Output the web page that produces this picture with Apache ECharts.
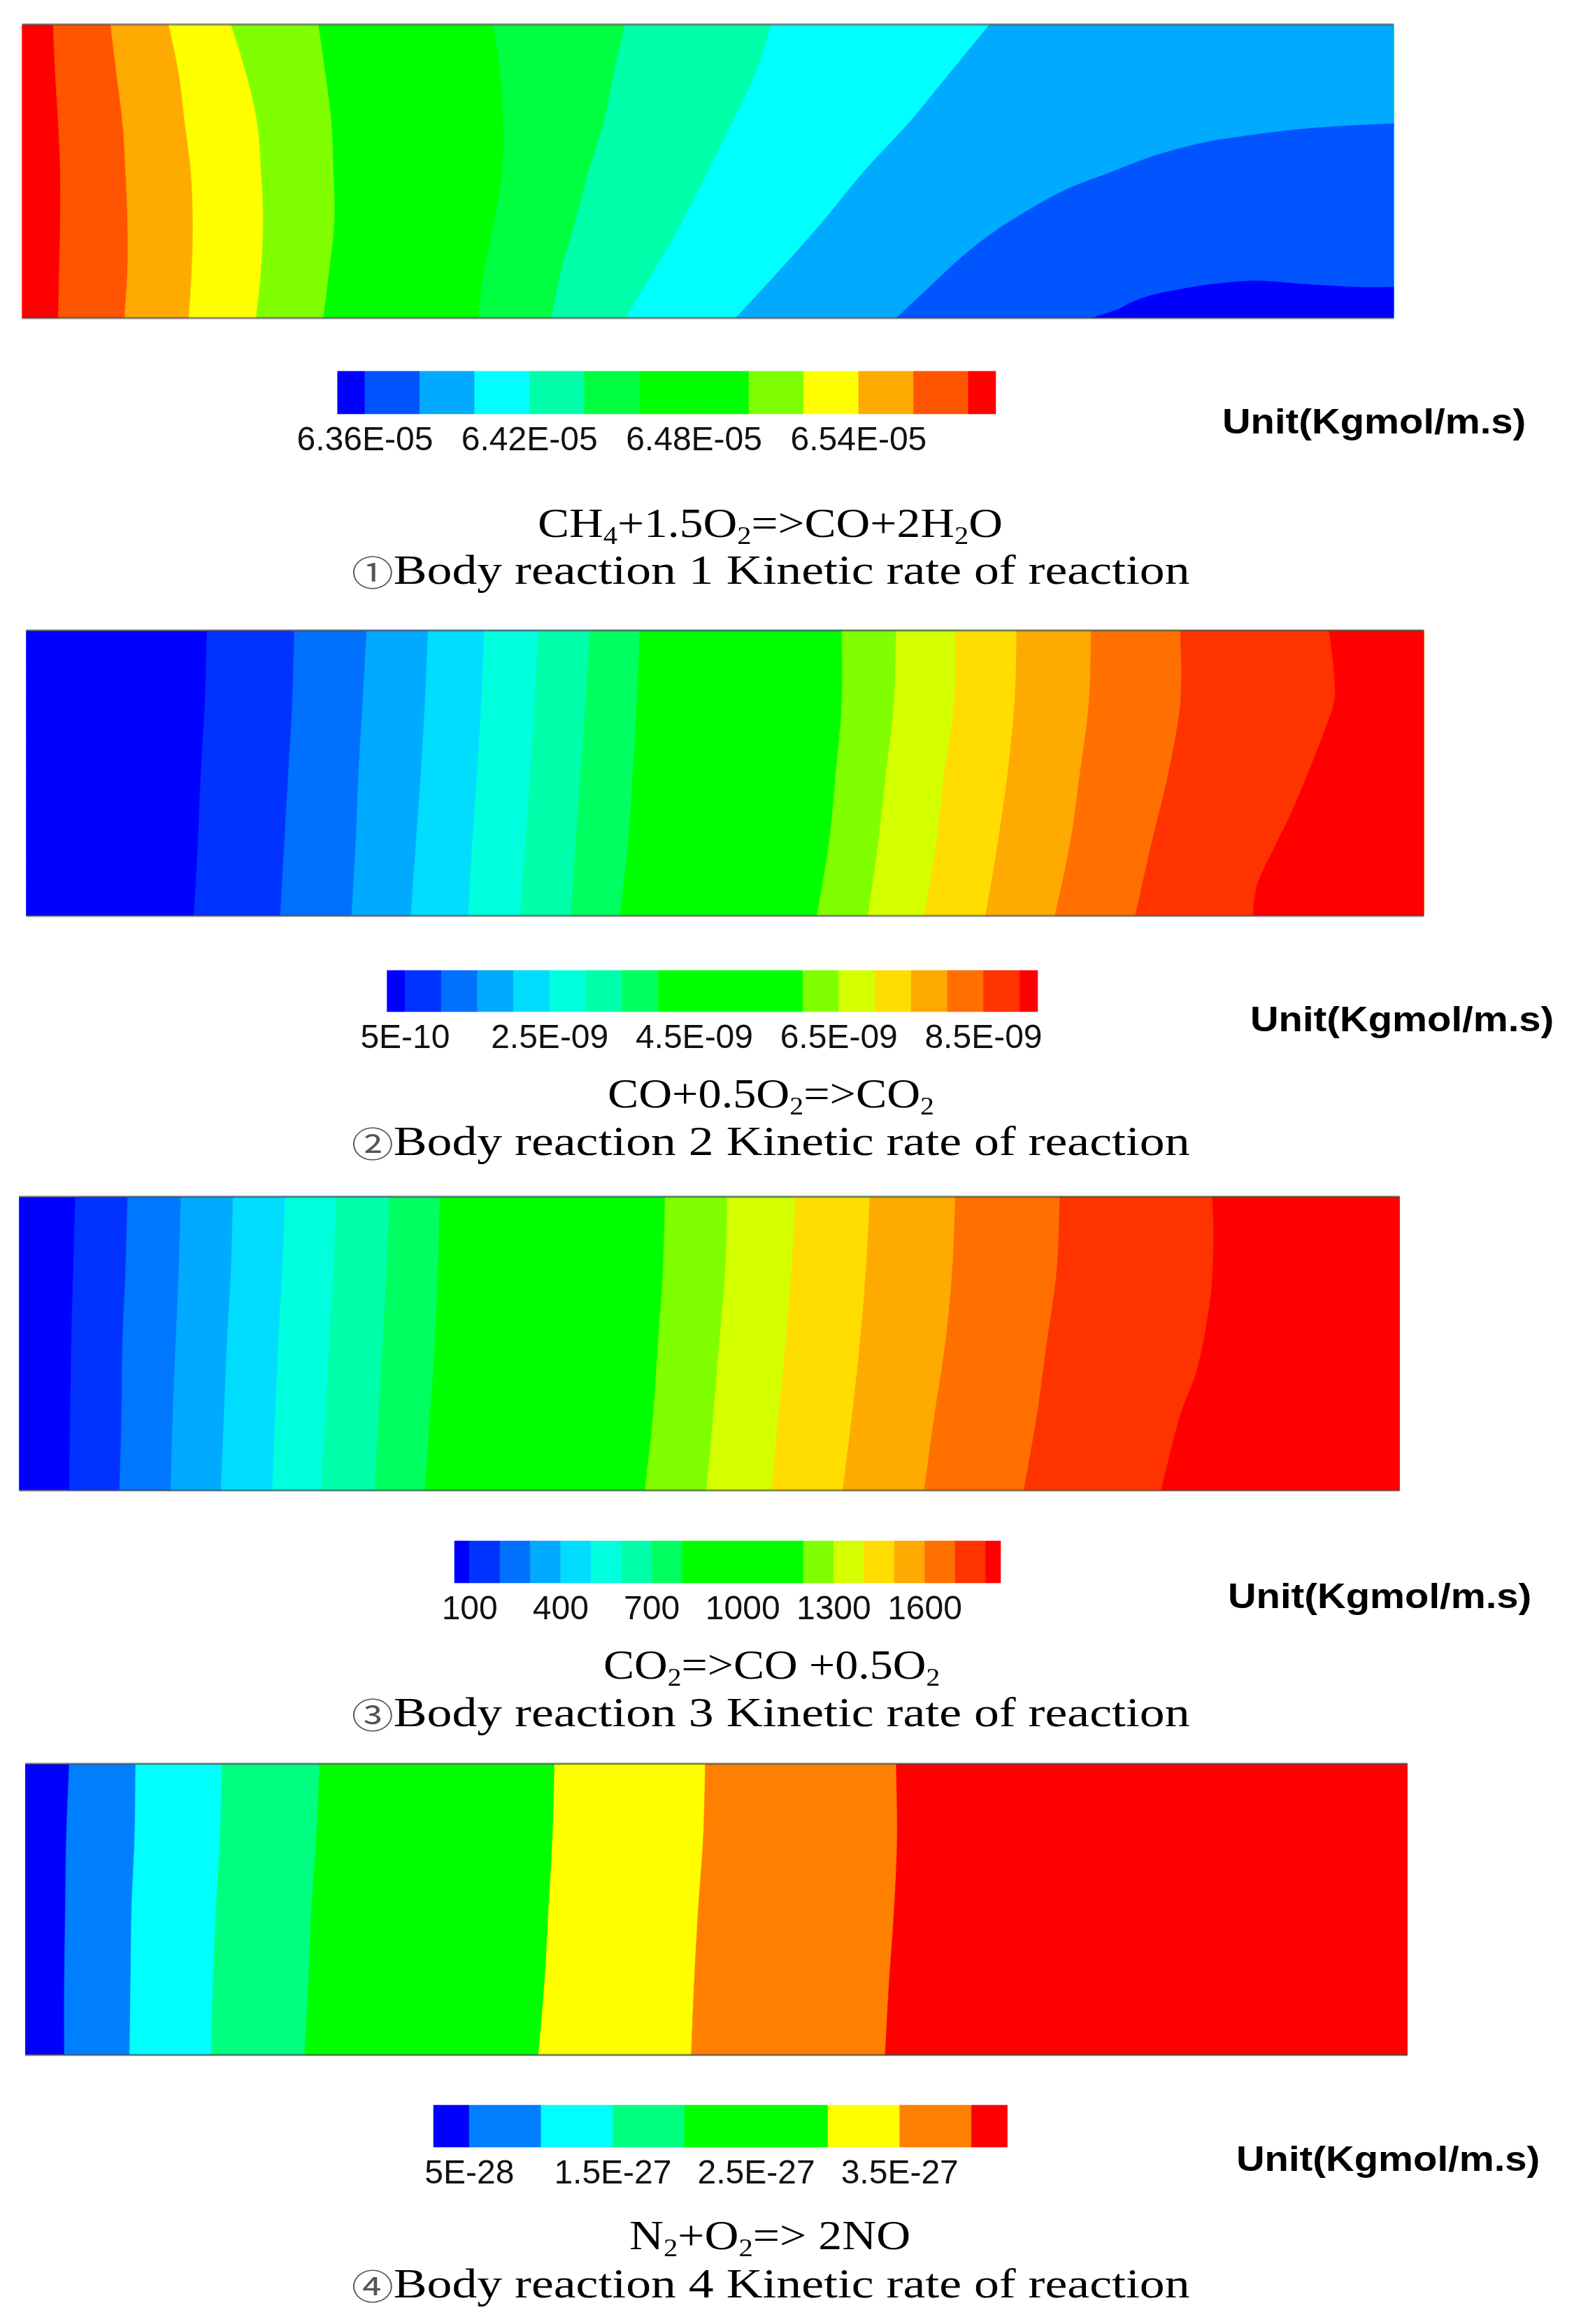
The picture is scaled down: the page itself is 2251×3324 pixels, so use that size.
<!DOCTYPE html>
<html><head><meta charset="utf-8">
<style>html,body{margin:0;padding:0;background:#fff}#c{width:2251px;height:3324px;filter:blur(0.7px)}</style>
<script src="https://cdn.jsdelivr.net/npm/echarts@6/dist/echarts.min.js"></script>
</head><body><div id="c"></div>
<script>
// ---------- Contour field 1 (axial position, radial position in arbitrary read-off units)
const field1Length = 1365, field1Height = 1260;
const field1Levels = [0,210,420,630,840,1050,1260];
const field1Colors = ['#ff0000','#ff5500','#ffaa00','#ffff00','#80ff00','#00ff00','#00ff00','#00ff40','#00ffaa','#00ffff','#00aaff','#0055ff','#0000ff'];
const field1Edges = [
 [31,33,36,38,38,37,36],
 [88,94,100,103,105,105,102],
 [146,156,162,168,170,169,166],
 [208,223,234,238,240,238,233],
 [295,302,308,310,311,306,300],
 [378,382,383,383,383,378,374],
 [469,476,479,478,470,460,454],
 [600,589,579,564,551,537,527],
 [746,730,707,683,658,630,601],
 [963,923,883,838,798,755,710],
 [[1365,425],[1310,437],[1260,455],[1210,483],[1173,510],[1126,565],[1080,640],[1041,705],[1006,785],[969,885],[936,995],[901,1135],[870,1260]],
 [[1365,1127],[1328,1127],[1278,1115],[1228,1100],[1184,1115],[1161,1130],[1126,1160],[1103,1195],[1092,1220],[1065,1260]]
];
// ---------- Contour field 2
const field2Length = 1391, field2Height = 1225;
const field2Levels = [0,305,612,918,1225];
const field2Colors = ['#0000ff','#0033ff','#0070ff','#00aaff','#00ddff','#00ffdd','#00ffaa','#00ff60','#00ff00','#80ff00','#d4ff00','#ffdd00','#ffaa00','#ff7000','#ff3300','#ff0000'];
const field2Edges = [
 [180,178,174,171,167],
 [267,265,261,257,253],
 [339,335,331,328,324],
 [400,397,393,388,383],
 [456,453,449,444,440],
 [510,506,502,497,492],
 [561,557,552,547,542],
 [611,608,604,599,591],
 [812,812,806,799,787],
 [866,864,856,848,838],
 [925,924,914,906,894],
 [986,984,977,967,955],
 [1060,1058,1049,1039,1024],
 [1149,1149,1137,1120,1104],
 [[1297,0],[1302,185],[1302,305],[1292,435],[1276,612],[1259,785],[1244,918],[1226,1085],[1221,1225]]
];
// ---------- Contour field 3
const field3Length = 1374, field3Height = 1260;
const field3Levels = [0,315,630,945,1260];
const field3Colors = ['#0000ff','#0033ff','#0077ff','#00aaff','#00ddff','#00ffdd','#00ffaa','#00ff60','#00ff00','#80ff00','#d4ff00','#ffdd00','#ffaa00','#ff7000','#ff3300','#ff0000'];
const field3Edges = [
 [56,54,52,51,50],
 [108,106,103,102,100],
 [161,159,156,153,151],
 [213,211,207,204,201],
 [265,262,258,255,252],
 [316,313,309,305,301],
 [369,366,362,358,354],
 [419,417,414,409,404],
 [643,641,636,631,623],
 [705,703,697,691,684],
 [773,769,763,756,749],
 [847,843,837,829,820],
 [932,929,922,911,901],
 [1036,1033,1023,1013,1000],
 [[1188,0],[1189,185],[1186,435],[1173,735],[1156,935],[1141,1185],[1137,1260]]
];
// ---------- Contour field 4
const field4Length = 1376, field4Height = 1250;
const field4Levels = [0,312,625,937,1250];
const field4Colors = ['#0000ff','#0080ff','#00ffff','#00ff80','#00ff00','#ffff00','#ff8000','#ff0000'];
const field4Edges = [
 [44,41,40,39,39],
 [110,109,106,105,104],
 [196,194,190,187,185],
 [293,290,285,282,278],
 [527,525,521,517,511],
 [677,675,670,666,663],
 [867,868,865,860,856]
];
// ---------- Colour bars: contour levels, band colours, tick labels
const bar1Levels = [6.35e-5,6.36e-5,6.38e-5,6.40e-5,6.42e-5,6.44e-5,6.46e-5,6.48e-5,6.50e-5,6.52e-5,6.54e-5,6.56e-5,6.58e-5,6.59e-5];
const bar1Colors = ['#0000ff','#0055ff','#00aaff','#00ffff','#00ffaa','#00ff40','#00ff00','#00ff00','#80ff00','#ffff00','#ffaa00','#ff5500','#ff0000'];
const bar1TickValues = [6.36e-5,6.42e-5,6.48e-5,6.54e-5];
const bar1TickLabels = ['6.36E-05','6.42E-05','6.48E-05','6.54E-05'];
const bar2Levels = [2.5e-10,5e-10,1e-9,1.5e-9,2e-9,2.5e-9,3e-9,3.5e-9,4e-9,4.5e-9,5e-9,5.5e-9,6e-9,6.5e-9,7e-9,7.5e-9,8e-9,8.5e-9,9e-9,9.25e-9];
const bar2Colors = ['#0000ff','#0033ff','#0070ff','#00aaff','#00ddff','#00ffdd','#00ffaa','#00ff60','#00ff00','#00ff00','#00ff00','#00ff00','#80ff00','#d4ff00','#ffdd00','#ffaa00','#ff7000','#ff3300','#ff0000'];
const bar2TickValues = [5e-10,2.5e-9,4.5e-9,6.5e-9,8.5e-9];
const bar2TickLabels = ['5E-10','2.5E-09','4.5E-09','6.5E-09','8.5E-09'];
const bar3Levels = [50,100,200,300,400,500,600,700,800,900,1000,1100,1200,1300,1400,1500,1600,1700,1800,1850];
const bar3Colors = bar2Colors;
const bar3TickValues = [100,400,700,1000,1300,1600];
const bar3TickLabels = ['100','400','700','1000','1300','1600'];
const bar4Levels = [2.5e-28,5e-28,1e-27,1.5e-27,2e-27,2.5e-27,3e-27,3.5e-27,4e-27,4.25e-27];
const bar4Colors = ['#0000ff','#0080ff','#00ffff','#00ff80','#00ff00','#00ff00','#ffff00','#ff8000','#ff0000'];
const bar4TickValues = [5e-28,1.5e-27,2.5e-27,3.5e-27];
const bar4TickLabels = ['5E-28','1.5E-27','2.5E-27','3.5E-27'];
// ---------- Texts
const unitLabel = 'Unit(Kgmol/m.s)';
const formulas = ['CH{s|4}+1.5O{s|2}=>CO+2H{s|2}O','CO+0.5O{s|2}=>CO{s|2}','CO{s|2}=>CO +0.5O{s|2}','N{s|2}+O{s|2}=> 2NO'];
const captions = ['{c|①}Body reaction 1 Kinetic rate of reaction','{c|②}Body reaction 2 Kinetic rate of reaction','{c|③}Body reaction 3 Kinetic rate of reaction','{c|④}Body reaction 4 Kinetic rate of reaction'];

// ---------- Layout
const fieldBoxes = [
 {l:31.6,r:1993,t:35,b:455},
 {l:37.4,r:2036,t:901.7,b:1310},
 {l:27.3,r:2001.4,t:1711.7,b:2131.7},
 {l:36,r:2013,t:2522.7,b:2939.3}
];
const barBoxes = [
 {l:482.7,r:1424,t:531,b:592},
 {l:553.6,r:1484,t:1388,b:1447},
 {l:650,r:1431,t:2204,b:2264},
 {l:620,r:1440.6,t:3011,b:3071}
];
const unitPos = [[1748,606],[1788,1461],[1756,2286],[1768,3091]];
const formulaPos = [[769,752,1.125],[869,1568,1.105],[863,2385,1.10],[900,3201,1.13]];
const captionPos = [[503,819],[503,1636],[503,2453],[503,3270]];
const captionScale = 1.195;

const fields = [
 {L:field1Length,H:field1Height,levels:field1Levels,colors:field1Colors,edges:field1Edges},
 {L:field2Length,H:field2Height,levels:field2Levels,colors:field2Colors,edges:field2Edges},
 {L:field3Length,H:field3Height,levels:field3Levels,colors:field3Colors,edges:field3Edges},
 {L:field4Length,H:field4Height,levels:field4Levels,colors:field4Colors,edges:field4Edges}
];
const bars = [
 {levels:bar1Levels,colors:bar1Colors,ticks:bar1TickValues,labels:bar1TickLabels},
 {levels:bar2Levels,colors:bar2Colors,ticks:bar2TickValues,labels:bar2TickLabels},
 {levels:bar3Levels,colors:bar3Colors,ticks:bar3TickValues,labels:bar3TickLabels},
 {levels:bar4Levels,colors:bar4Colors,ticks:bar4TickValues,labels:bar4TickLabels}
];

const grid=[],xAxis=[],yAxis=[],series=[],graphic=[];
const TICK_FONT='"Liberation Sans", Arial, sans-serif';
const SERIF='"Liberation Serif", "Times New Roman", serif';

// Draw a contour edge as a smooth pen stroke through its read-off points (pixel space).
function smoothStroke(pts){
  const out=[];
  for(let i=0;i<pts.length-1;i++){
    const p0=pts[Math.max(i-1,0)],p1=pts[i],p2=pts[i+1],p3=pts[Math.min(i+2,pts.length-1)];
    for(let s=0;s<12;s++){
      const t=s/12,t2=t*t,t3=t2*t;
      out.push([0,1].map(function(d){
        return 0.5*(2*p1[d]+(p2[d]-p0[d])*t+(2*p0[d]-5*p1[d]+4*p2[d]-p3[d])*t2+(3*p1[d]-p0[d]-3*p2[d]+p3[d])*t3);
      }));
    }
  }
  out.push(pts[pts.length-1]);
  return out;
}

fields.forEach(function(f,k){
  const b=fieldBoxes[k], idx=grid.length;
  grid.push({left:b.l,top:b.t,width:b.r-b.l,height:b.b-b.t,show:false});
  xAxis.push({gridIndex:idx,type:'value',min:0,max:f.L,show:false});
  yAxis.push({gridIndex:idx,type:'value',min:0,max:f.H,inverse:true,show:false});
  const curves=[[[0,0],[0,f.H]]];
  f.edges.forEach(function(e){
    curves.push(Array.isArray(e[0])?e:e.map(function(x,i){return [x,f.levels[i]];}));
  });
  series.push({type:'custom',name:'Field '+(k+1),xAxisIndex:idx,yAxisIndex:idx,silent:true,clip:true,
    data:curves.map(function(p,i){return [i];}),
    encode:{x:[],y:[]},
    renderItem:function(params,api){
      const i=api.value(0), curve=curves[i];
      const y0=curve[0][1], y1=curve[curve.length-1][1];
      const pts=smoothStroke(curve.map(function(p){return api.coord(p);}))
        .concat([api.coord([f.L,y1]),api.coord([f.L,y0])]);
      return {type:'polygon',shape:{points:pts},
        style:{fill:f.colors[i],stroke:f.colors[i],lineWidth:0.6}};
    }});
  series.push({type:'custom',name:'Field '+(k+1)+' frame',xAxisIndex:idx,yAxisIndex:idx,silent:true,clip:false,z:5,
    data:[[0],[f.H]],
    encode:{x:[],y:[]},
    renderItem:function(params,api){
      const y=api.value(0), a=api.coord([0,y]), c=api.coord([f.L,y]);
      return {type:'line',shape:{x1:a[0],y1:a[1],x2:c[0],y2:c[1]},style:{stroke:'rgba(70,70,70,0.6)',lineWidth:3}};
    }});
});

bars.forEach(function(bar,k){
  const b=barBoxes[k], idx=grid.length;
  grid.push({left:b.l,top:b.t,width:b.r-b.l,height:b.b-b.t,show:false});
  xAxis.push({gridIndex:idx,type:'value',position:'bottom',
    min:bar.levels[0],max:bar.levels[bar.levels.length-1],
    axisLine:{show:false},axisTick:{show:false},splitLine:{show:false},
    axisLabel:{show:true,customValues:bar.ticks,margin:15,fontSize:48,color:'#111',fontFamily:TICK_FONT,
      formatter:function(v){
        let best=0;bar.ticks.forEach(function(t,i){if(Math.abs(t-v)<Math.abs(bar.ticks[best]-v))best=i;});
        return bar.labels[best];
      }}});
  yAxis.push({gridIndex:idx,type:'value',min:0,max:1,show:false});
  series.push({type:'custom',name:'Colour bar '+(k+1),xAxisIndex:idx,yAxisIndex:idx,silent:true,
    data:bar.colors.map(function(c,i){return [bar.levels[i],bar.levels[i+1],i];}),
    encode:{x:[0,1],y:[]},
    renderItem:function(params,api){
      const a=api.coord([api.value(0),1]), c=api.coord([api.value(1),0]);
      const i=api.value(2);
      return {type:'rect',shape:{x:a[0],y:a[1],width:c[0]-a[0],height:c[1]-a[1]},
        style:{fill:bar.colors[i],stroke:bar.colors[i],lineWidth:0.6}};
    }});
});

unitPos.forEach(function(p){
  graphic.push({type:'text',x:p[0],y:p[1],scaleX:1.125,silent:true,
    style:{text:unitLabel,fill:'#000',font:'bold 50px '+TICK_FONT,align:'left',verticalAlign:'middle'}});
});
formulas.forEach(function(t,k){
  const p=formulaPos[k];
  graphic.push({type:'text',x:p[0],y:p[1],scaleX:p[2],silent:true,
    style:{text:t,fill:'#000',font:'60px '+SERIF,align:'left',verticalAlign:'middle',lineHeight:70,
      rich:{s:{fontSize:36,fontFamily:SERIF,fill:'#000',verticalAlign:'bottom',lineHeight:34}}}});
});
captions.forEach(function(t,k){
  const p=captionPos[k];
  graphic.push({type:'text',x:p[0],y:p[1],scaleX:captionScale,silent:true,
    style:{text:t,fill:'#000',font:'60px '+SERIF,align:'left',verticalAlign:'middle',lineHeight:70,
      rich:{c:{fontSize:50,fontFamily:'"Noto Sans CJK SC"',fill:'#555'}}}});
});

const chart=echarts.init(document.getElementById('c'),null,{renderer:'canvas',width:2251,height:3324});
chart.setOption({animation:false,backgroundColor:'#ffffff',grid,xAxis,yAxis,series,graphic});
</script></body></html>
